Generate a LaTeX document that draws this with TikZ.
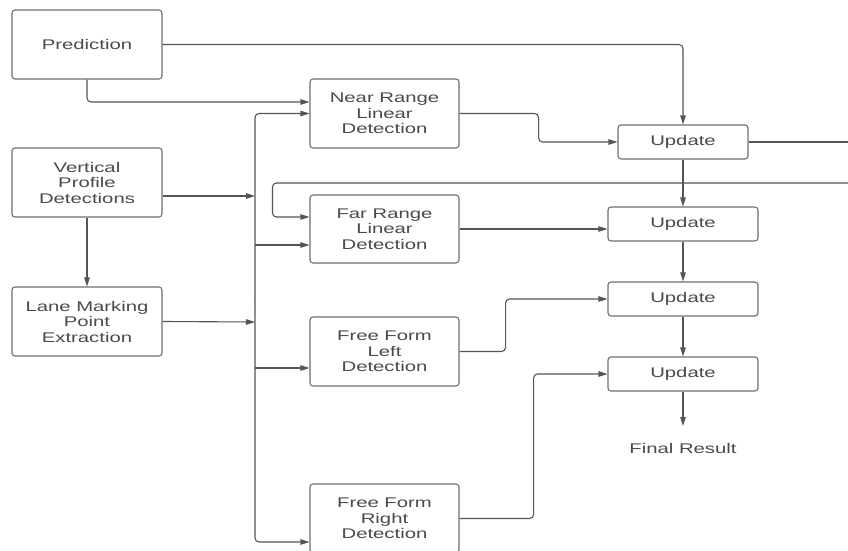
\documentclass[tikz,border=0pt]{standalone}
\usepackage{fontspec}
\setmainfont[FakeStretch=1.45]{Liberation Sans}
\usetikzlibrary{arrows.meta,calc}
\definecolor{txt}{HTML}{4A4A4A}
\definecolor{ln}{HTML}{555555}
\definecolor{bd}{HTML}{707070}
\tikzset{
  box/.style={draw=bd,line width=1.1pt,rounded corners=3pt,align=center,text=txt,
    font=\fontsize{14}{15.5}\selectfont,inner sep=0pt},
  big/.style={box,minimum width=150pt,minimum height=69pt},
  mid/.style={box,minimum width=149pt,minimum height=69pt},
  upd/.style={box,minimum width=150pt,minimum height=34pt},
  lbl/.style={text=txt,font=\fontsize{14}{15.5}\selectfont},
  conn/.style={draw=ln,line width=1.1pt,rounded corners=4pt},
  arr/.style={conn,-{Triangle[length=9pt,width=5.5pt]}}
}
\begin{document}
\begin{tikzpicture}[x=1pt,y=-1pt]
\useasboundingbox[fill=white] (0,0) rectangle (848,551);
% left column
\node[big] (pred) at (87,44.5) {Prediction};
\node[big] (vp) at (87,182.5) {Vertical\\Profile\\Detections};
\node[big] (lane) at (87,321.5) {Lane Marking\\Point\\Extraction};
% middle column
\node[mid] (near) at (384.5,113.5) {Near Range\\Linear\\Detection};
\node[mid,minimum height=68pt] (far) at (384.5,229) {Far Range\\Linear\\Detection};
\node[mid] (ffl) at (384.5,351.5) {Free Form\\Left\\Detection};
\node[mid] (ffr) at (384.5,518.5) {Free Form\\Right\\Detection};
% right column
\node[upd,minimum width=130pt] (up1) at (683,142) {Update};
\node[upd] (up2) at (683,224) {Update};
\node[upd] (up3) at (683,299) {Update};
\node[upd] (up4) at (683,374) {Update};
\node[lbl] (final) at (683,448) {Final Result};
% helper coordinates
\coordinate (busmid) at (255,300);
\coordinate (bvp) at (255,196);
\coordinate (blm) at (255,322);
\coordinate (bfar) at (255,245);
\coordinate (bffl) at (255,368);
\coordinate (outR) at (848,142);
\coordinate (inR) at (848,183);
\coordinate (fend) at (683,426);
% connectors
\draw[arr] (pred.east) -| (up1.north);
\draw[arr] (pred.south) |- ($(near.west)+(0,-11.5)$);
\draw[arr] (vp.south) -- (lane.north);
\draw[arr] ($(vp.east)+(0,13.5)$) -- (bvp);
\draw[arr] (lane.east) -- (blm);
\draw[arr] (busmid) |- (near.west);
\draw[arr] (busmid) |- ($(ffr.west)+(0,23.5)$);
\draw[arr] (bfar) -- ($(far.west)+(0,16)$);
\draw[arr] (bffl) -- ($(ffl.west)+(0,16.5)$);
\draw[arr] (near.east) -- ++(79,0) |- (up1.west);
\draw[arr] (far.east) -- (far.east -| up2.west);
\draw[arr] (ffl.east) -- ++(46,0) |- (up3.west);
\draw[arr] (ffr.east) -- ++(74,0) |- (up4.west);
\draw[conn] (up1.east) -- (outR);
\draw[arr] (inR) -| ($(far.west)+(-37,-12)$) -- ($(far.west)+(0,-12)$);
\draw[arr] (up1.south) -- (up2.north);
\draw[arr] (up2.south) -- (up3.north);
\draw[arr] (up3.south) -- (up4.north);
\draw[arr] (up4.south) -- (fend);
\end{tikzpicture}
\end{document}
